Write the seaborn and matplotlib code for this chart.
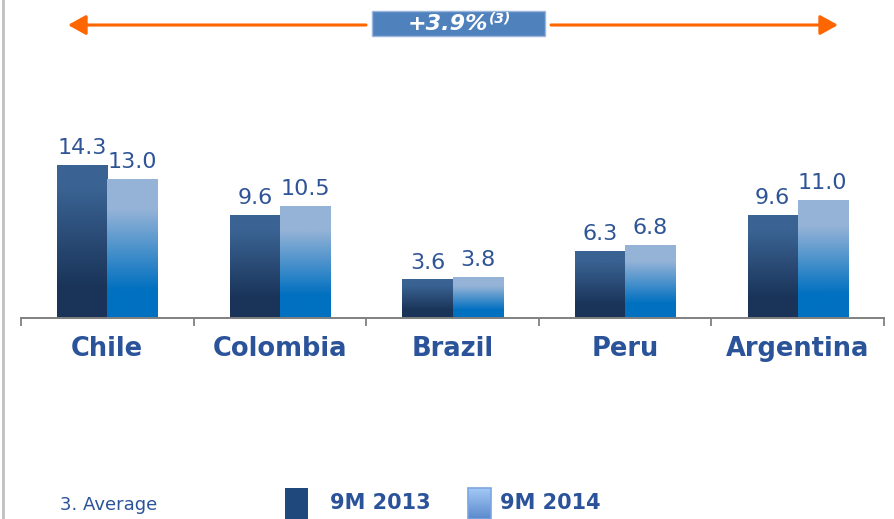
import numpy as np
import pandas as pd
import seaborn as sns
import matplotlib.pyplot as plt
from matplotlib.colors import to_rgb
from matplotlib.patches import Rectangle, FancyArrowPatch
from matplotlib.lines import Line2D

# data
countries = ['Chile', 'Colombia', 'Brazil', 'Peru', 'Argentina']
values_2013 = [14.3, 9.6, 3.6, 6.3, 9.6]
values_2014 = [13.0, 10.5, 3.8, 6.8, 11.0]
periods = ['9M 2013', '9M 2014']
growth_label = '+3.9%'
growth_note = '(3)'
footnote = '3. Average'

W, H = 895, 519
blue_txt = '#2b539a'


def fx(px):
    return px / W


def fy(py):
    return 1 - py / H


def gradient(stops, n=200):
    # stops: list of (pos from top, colour)
    pos = np.array([s[0] for s in stops])
    cols = np.array([to_rgb(s[1]) for s in stops])
    t = np.linspace(0, 1, n)
    arr = np.stack([np.interp(t, pos, cols[:, k]) for k in range(3)], axis=1)
    return arr[:, None, :]


grad_2013 = gradient([(0, '#3a6393'), (0.15, '#3a6393'), (0.8, '#1a3459'), (1, '#1a3459')])
grad_2014 = gradient([(0, '#95b3d7'), (0.22, '#95b3d7'), (0.8, '#0070c0'), (1, '#0070c0')])

df = pd.DataFrame({
    'country': countries * 2,
    'value': values_2013 + values_2014,
    'period': [periods[0]] * len(countries) + [periods[1]] * len(countries),
})

sns.set_style('white')
fig = plt.figure(figsize=(W / 100, H / 100), dpi=100)
ax = fig.add_axes([fx(21), fy(318), fx(884) - fx(21), fy(18) - fy(318)])

sns.barplot(data=df, x='country', y='value', hue='period', order=countries,
            hue_order=periods, palette=['#1f497d', '#5b9bd5'], width=0.58,
            ax=ax, legend=False, saturation=1)

ylim = (0, 300 / 10.7)
for cont, grad in zip(ax.containers, [grad_2013, grad_2014]):
    for bar in cont:
        x0, y0 = bar.get_x(), bar.get_y()
        im = ax.imshow(grad, extent=[x0, x0 + bar.get_width(), y0, y0 + bar.get_height()],
                       aspect='auto', zorder=bar.get_zorder() + 0.1, interpolation='bilinear')
        im.set_clip_path(bar)
    ax.bar_label(cont, fmt='%.1f', padding=5, fontsize=16, color='#2e5496')

ax.set_xlim(-0.5, 4.5)
ax.set_ylim(*ylim)
ax.set_xlabel('')
ax.set_ylabel('')
ax.set_yticks([])
ax.set_xticks(range(len(countries)))
ax.set_xticklabels(countries, fontsize=18.5, fontweight='bold', color=blue_txt)
ax.set_xticks(np.arange(-0.5, len(countries)), minor=True)
ax.tick_params(axis='x', which='major', length=0, pad=13)
ax.tick_params(axis='x', which='minor', bottom=True, length=5.5, width=1.3,
               color='#808080', direction='out')
for s in ['left', 'right', 'top']:
    ax.spines[s].set_visible(False)
ax.spines['bottom'].set_color('#808080')
ax.spines['bottom'].set_linewidth(1.4)

# left frame line
fig.add_artist(Line2D([fx(3), fx(3)], [0, 1], color='#c0c0c0', lw=2))

# growth arrow and box
y_arr = fy(25)
for start, end in [(366, 68), (551, 838)]:
    fig.add_artist(FancyArrowPatch((fx(start), y_arr), (fx(end), y_arr),
                                   transform=fig.transFigure,
                                   arrowstyle='-|>,head_length=0.9,head_width=0.5',
                                   mutation_scale=12, color='#ff6600', lw=2.2,
                                   shrinkA=0, shrinkB=0))
fig.add_artist(Rectangle((fx(372), fy(36)), fx(545) - fx(372), fy(11) - fy(36),
                         transform=fig.transFigure, fc='#4f81bd', ec='#9bb7dc', lw=1))
fig.text(fx(488), fy(24), growth_label, ha='right', va='center', fontsize=16,
         fontweight='bold', fontstyle='italic', color='white')
fig.text(fx(489), fy(19), growth_note, ha='left', va='center', fontsize=10,
         fontweight='bold', fontstyle='italic', color='white')

# footnote
fig.text(fx(60), fy(505), footnote, ha='left', va='center', fontsize=13, color=blue_txt)

# legend
fig.add_artist(Rectangle((fx(285), 0), fx(23), 31 / H, transform=fig.transFigure,
                         fc='#1f497d', ec='none'))
lax = fig.add_axes([fx(468), 0, fx(23), 31 / H])
lax.imshow(gradient([(0, '#a4c8f8'), (1, '#5a8acb')]), aspect='auto', extent=[0, 1, 0, 1])
lax.set_axis_off()
fig.add_artist(Rectangle((fx(468), 0), fx(23), 31 / H, transform=fig.transFigure,
                         fc='none', ec='#7aa7e0', lw=1.2))
fig.text(fx(330), fy(503), periods[0], ha='left', va='center', fontsize=15,
         fontweight='bold', color=blue_txt)
fig.text(fx(500), fy(503), periods[1], ha='left', va='center', fontsize=15,
         fontweight='bold', color=blue_txt)

fig.savefig('out.png', dpi=100)
